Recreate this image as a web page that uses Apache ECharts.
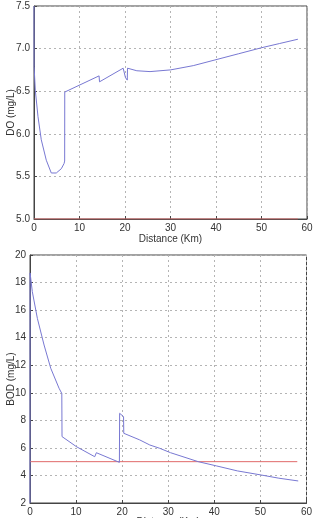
<!DOCTYPE html>
<html><head><meta charset="utf-8">
<script src="https://cdn.jsdelivr.net/npm/echarts@6/dist/echarts.min.js"></script>
<style>html,body{margin:0;padding:0;background:#fff}#c{width:315px;height:518px}</style>
</head><body><div id="c"></div>
<script>
// DO profile (km, mg/L)
const doKm  = [0, 0.02, 0.29, 0.88, 1.6, 2.7, 3.8, 4.9, 6.0, 6.6, 6.74, 6.76, 14.3, 14.4, 19.6, 20.1, 20.5, 20.55, 22.6, 25.5, 30, 35, 40, 45, 50, 54, 58];
const doVal = [7.5, 6.79, 6.51, 6.2, 5.93, 5.69, 5.54, 5.54, 5.59, 5.65, 5.68, 6.49, 6.68, 6.61, 6.77, 6.66, 6.63, 6.77, 6.74, 6.73, 6.75, 6.8, 6.87, 6.94, 7.01, 7.06, 7.11];
// BOD profile (km, mg/L)
const bodKm  = [0, 0.02, 0.5, 1.6, 3.05, 4.5, 6.3, 6.9, 6.95, 7.2, 10.07, 14.05, 14.4, 19.4, 19.45, 20.3, 20.35, 23.8, 26, 28.15, 30.5, 36.5, 40.5, 45, 50.2, 54, 58.2];
const bodVal = [2, 18.7, 17.34, 15.4, 13.47, 11.78, 10.33, 9.95, 6.82, 6.9, 6.09, 5.36, 5.65, 4.95, 8.51, 8.27, 7.06, 6.58, 6.21, 5.97, 5.65, 5.0, 4.69, 4.33, 4.03, 3.8, 3.6];
// standards
const stdKm = [0, 58];
const doStd = [5, 5];
const bodStd = [5, 5];
const xTicks = [0, 10, 20, 30, 40, 50, 60];
const doTicks = [5.0, 5.5, 6.0, 6.5, 7.0, 7.5];
const bodTicks = [2, 4, 6, 8, 10, 12, 14, 16, 18, 20];

const pair = (xs, ys) => xs.map((x, i) => [x, ys[i]]);
const font = 'Liberation Sans, Arial, sans-serif';
const labelStyle = {color: '#333', fontSize: 10, fontFamily: font};
const grid = {show: true, borderColor: '#444', borderWidth: 1, backgroundColor: '#fff', containLabel: false, outerBoundsMode: 'none'};
const splitLine = {show: true, lineStyle: {color: '#b4b4b4', type: [2, 3], width: 1}};
function xAxis(gi, gap) {
  return {type: 'value', gridIndex: gi, min: xTicks[0], max: xTicks[xTicks.length-1], interval: 10,
    name: 'Distance (Km)', nameLocation: 'middle', nameGap: gap, nameMoveOverlap: false,
    nameTextStyle: {color: '#333', fontSize: 10, fontFamily: font},
    axisLine: {show: true, lineStyle: {color: '#444'}},
    axisTick: {show: true, inside: true, length: 3, lineStyle: {color: '#444'}},
    axisLabel: Object.assign({margin: 4}, labelStyle), splitLine};
}
function yAxis(gi, name, ticks, iv, gap, dec) {
  return {type: 'value', gridIndex: gi, min: ticks[0], max: ticks[ticks.length-1], interval: iv,
    name, nameLocation: 'middle', nameGap: gap, nameMoveOverlap: false,
    nameTextStyle: {color: '#333', fontSize: 10, fontFamily: font},
    axisLine: {show: true, lineStyle: {color: '#444'}},
    axisTick: {show: true, inside: true, length: 3, lineStyle: {color: '#444'}},
    axisLabel: Object.assign({margin: 4, formatter: v => v.toFixed(dec)}, labelStyle), splitLine};
}
const blue = '#7878d2', red = '#e06a6a';
const chart = echarts.init(document.getElementById('c'), null, {renderer: 'canvas'});
chart.setOption({
  animation: false,
  grid: [
    Object.assign({left: 34, top: 6, width: 273, height: 213}, grid),
    Object.assign({left: 30, top: 255, width: 276.5, height: 248}, grid)
  ],
  xAxis: [xAxis(0, 15), xAxis(1, 14)],
  yAxis: [yAxis(0, 'DO (mg/L)', doTicks, 0.5, 18, 1), yAxis(1, 'BOD (mg/L)', bodTicks, 2, 14, 0)],
  series: [
    {type: 'line', xAxisIndex: 0, yAxisIndex: 0, data: pair(stdKm, doStd), symbol: 'none', lineStyle: {color: red, width: 1}},
    {type: 'line', xAxisIndex: 0, yAxisIndex: 0, data: pair(doKm, doVal), symbol: 'none', smooth: false, lineStyle: {color: blue, width: 1}},
    {type: 'line', xAxisIndex: 1, yAxisIndex: 1, data: pair(stdKm, bodStd), symbol: 'none', lineStyle: {color: red, width: 1}},
    {type: 'line', xAxisIndex: 1, yAxisIndex: 1, data: pair(bodKm, bodVal), symbol: 'none', lineStyle: {color: blue, width: 1}}
  ]
});
</script></body></html>
